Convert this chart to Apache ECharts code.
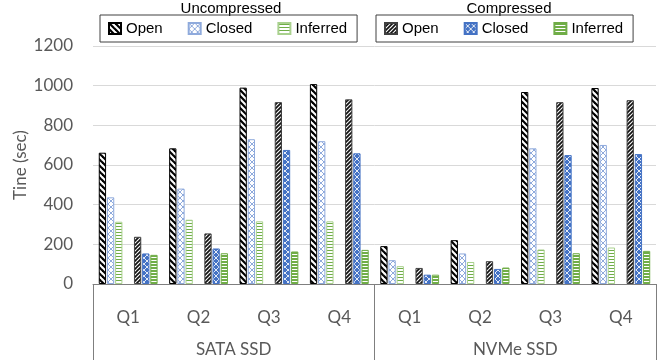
<!DOCTYPE html>
<html>
<head>
<meta charset="utf-8">
<script src="https://cdn.jsdelivr.net/npm/echarts@6/dist/echarts.min.js"></script>
<style>
  html, body { margin: 0; padding: 0; background: #fff; }
  #chart { width: 660px; height: 360px; }
</style>
</head>
<body>
<div id="chart"></div>
<script>
// Query run times in seconds, ordered SATA Q1..Q4 then NVMe Q1..Q4
const devices = ['SATA SSD', 'NVMe SSD'];
const queries = ['Q1', 'Q2', 'Q3', 'Q4'];
const uncompressedOpen     = [662, 684, 990, 1008, 191, 221, 968, 988];
const uncompressedClosed   = [437, 481, 730, 720, 120, 154, 684, 701];
const uncompressedInferred = [314, 324, 316, 316, 90, 111, 174, 184];
const compressedOpen       = [238, 255, 917, 931, 81, 115, 917, 927];
const compressedClosed     = [154, 179, 676, 659, 47, 76, 650, 655];
const compressedInferred   = [147, 155, 164, 172, 47, 83, 155, 167];
const yMin = 0, yMax = 1200, yStep = 200;
const yTitle = 'Tine (sec)';

// Each query gets two slots on the base axis: uncompressed then compressed
const quarterLabels = [];
devices.forEach(() => queries.forEach(q => quarterLabels.push(q)));
const slots = [];
quarterLabels.forEach((q, i) => { slots.push(i + 'u'); slots.push(i + 'c'); });
function place(values, which) {
  const out = [];
  values.forEach(v => { out.push(which === 0 ? v : '-'); out.push(which === 1 ? v : '-'); });
  return out;
}

function pattern(w, h, bg, draw) {
  const c = document.createElement('canvas');
  c.width = w; c.height = h;
  const g = c.getContext('2d');
  g.fillStyle = bg; g.fillRect(0, 0, w, h);
  draw(g, w, h);
  return { image: c, repeat: 'repeat' };
}
function diag(g, s, down) {
  for (const k of [-s, 0, s]) {
    g.beginPath();
    if (down) { g.moveTo(k - 1, -1); g.lineTo(k + s + 1, s + 1); }
    else { g.moveTo(k - 1, s + 1); g.lineTo(k + s + 1, -1); }
    g.stroke();
  }
}
const fillOpenU = pattern(6, 6, '#fff', (g) => { g.strokeStyle = '#000'; g.lineWidth = 2.2; diag(g, 6, true); });
const fillOpenC = pattern(4, 4, '#fff', (g) => { g.strokeStyle = '#111'; g.lineWidth = 1.7; diag(g, 4, false); });
const fillClosedU = pattern(6, 6, '#fff', (g) => { g.strokeStyle = '#8FAADC'; g.lineWidth = 1; diag(g, 6, true); diag(g, 6, false); });
const fillClosedC = pattern(6, 6, '#4472C4', (g) => { g.strokeStyle = 'rgba(255,255,255,0.85)'; g.lineWidth = 1; diag(g, 6, true); diag(g, 6, false); });
const fillInferredU = pattern(3, 3, '#fff', (g) => { g.fillStyle = '#70AD47'; g.fillRect(0, 1, 3, 1); });
const fillInferredC = pattern(3, 3, '#70AD47', (g) => { g.fillStyle = '#fff'; g.fillRect(0, 2, 3, 1); });

const axisFont = 'Lato';
const axisColor = '#595959';
const lineColor = '#7f7f7f';

function barSeries(name, stack, values, which, color, border) {
  return {
    name: name,
    type: 'bar',
    stack: stack,
    xAxisIndex: 0,
    barWidth: 7.3,
    barGap: '12%',
    data: place(values, which),
    itemStyle: { color: color, borderColor: border, borderWidth: 1 },
    emphasis: { disabled: true }
  };
}

const legendBase = {
  top: 15,
  orient: 'horizontal',
  icon: 'rect',
  itemWidth: 12,
  itemHeight: 11,
  itemGap: 25,
  padding: [6, 10, 6, 8],
  borderColor: '#404040',
  borderWidth: 1,
  selectedMode: false,
  formatter: n => n.split(' ')[1],
  textStyle: { fontFamily: 'Liberation Sans', fontSize: 15, color: '#000' }
};

const chart = echarts.init(document.getElementById('chart'), null, { renderer: 'canvas' });
chart.setOption({
  animation: false,
  backgroundColor: '#fff',
  grid: { left: 93, right: 4, top: 46, bottom: 76, containLabel: false, outerBoundsMode: 'none' },
  legend: [
    Object.assign({}, legendBase, { left: 100, data: ['Uncompressed Open', 'Uncompressed Closed', 'Uncompressed Inferred'] }),
    Object.assign({}, legendBase, { left: 376, data: ['Compressed Open', 'Compressed Closed', 'Compressed Inferred'] })
  ],
  graphic: [
    { type: 'text', style: { text: 'Uncompressed', x: 231, y: 9, align: 'center', verticalAlign: 'middle', font: '15px "Liberation Sans"', fill: '#000' } },
    { type: 'text', style: { text: 'Compressed', x: 509, y: 9, align: 'center', verticalAlign: 'middle', font: '15px "Liberation Sans"', fill: '#000' } }
  ],
  xAxis: [
    {
      type: 'category', data: slots, position: 'bottom',
      axisLine: { lineStyle: { color: lineColor, width: 1 } },
      axisTick: { show: false }, axisLabel: { show: false }, splitLine: { show: false }
    },
    {
      type: 'category', data: quarterLabels, position: 'bottom',
      axisLine: { show: false }, axisTick: { show: false },
      axisLabel: { margin: 25, fontFamily: axisFont, fontSize: 17, color: axisColor }
    },
    {
      type: 'category', data: devices, position: 'bottom',
      axisLine: { show: false },
      axisTick: { show: true, length: 76, lineStyle: { color: lineColor, width: 1 } },
      axisLabel: { margin: 57, fontFamily: axisFont, fontSize: 17, color: axisColor }
    }
  ],
  yAxis: {
    type: 'value', min: yMin, max: yMax, interval: yStep,
    axisLine: { show: false }, axisTick: { show: false },
    axisLabel: { margin: 20, fontFamily: axisFont, fontSize: 17, color: axisColor, formatter: v => String(v) },
    splitLine: { lineStyle: { color: '#d9d9d9', width: 1 } },
    name: yTitle, nameLocation: 'middle', nameGap: 64, nameMoveOverlap: false,
    nameTextStyle: { fontFamily: axisFont, fontSize: 17, color: axisColor }
  },
  series: [
    barSeries('Uncompressed Open', 'open', uncompressedOpen, 0, fillOpenU, '#000'),
    barSeries('Uncompressed Closed', 'closed', uncompressedClosed, 0, fillClosedU, '#8FAADC'),
    barSeries('Uncompressed Inferred', 'inferred', uncompressedInferred, 0, fillInferredU, '#A9D18E'),
    barSeries('Compressed Open', 'open', compressedOpen, 1, fillOpenC, '#404040'),
    barSeries('Compressed Closed', 'closed', compressedClosed, 1, fillClosedC, '#4472C4'),
    barSeries('Compressed Inferred', 'inferred', compressedInferred, 1, fillInferredC, '#70AD47')
  ]
});
</script>
</body>
</html>
